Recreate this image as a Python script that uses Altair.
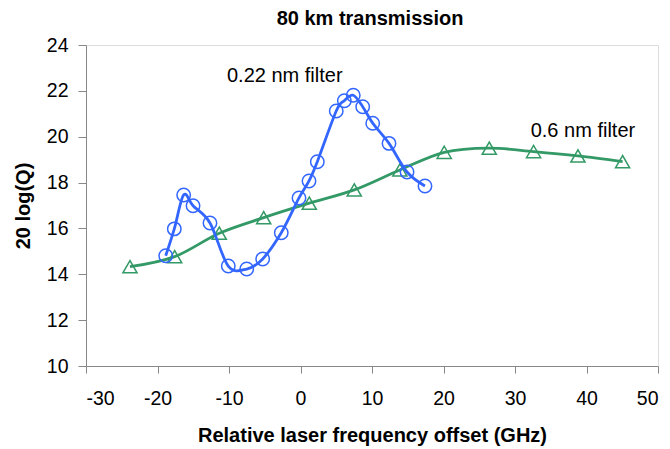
import altair as alt
import pandas as pd

# 0.22 nm filter (blue circles)
blue_x = [-18.85, -17.65, -16.34, -15.03, -12.66, -10.1, -7.52, -5.29, -2.69, -0.21,
          1.19, 2.35, 5.0, 6.13, 7.38, 8.70, 10.1, 12.38, 14.9, 17.41]
blue_y = [14.81, 15.98, 17.46, 16.99, 16.24, 14.36, 14.23, 14.67, 15.81, 17.33,
          18.07, 18.91, 21.12, 21.57, 21.81, 21.31, 20.59, 19.71, 18.46, 17.85]

# 0.6 nm filter (green triangles)
green_x = [-23.85, -17.6, -11.36, -5.15, 1.23, 7.52, 13.9, 20.1, 26.4, 32.6, 38.8, 45.05]
green_y = [14.33, 14.77, 15.79, 16.47, 17.10, 17.68, 18.55, 19.32, 19.50, 19.35, 19.16, 18.91]

x_ticks = [-30, -20, -10, 0, 10, 20, 30, 40, 50]
y_ticks = [10, 12, 14, 16, 18, 20, 22, 24]

FONT = "Liberation Sans"
BLUE = "#3366ff"
GREEN = "#339966"

blue_df = pd.DataFrame({"x": blue_x, "y": blue_y})
green_df = pd.DataFrame({"x": green_x, "y": green_y})

xscale = alt.Scale(domain=[-30, 50], nice=False, zero=False)
yscale = alt.Scale(domain=[10, 24], nice=False, zero=False)

xaxis = alt.Axis(values=x_ticks, title="Relative laser frequency offset (GHz)",
                 grid=False, tickSize=7, labelPadding=16, labelFontSize=19.5,
                 labelExpr="toString(datum.value)",
                 titleFontSize=20, titleFontWeight="bold", titleX=286, titleY=75,
                 titleBaseline="alphabetic", titleAlign="center")
yaxis = alt.Axis(values=y_ticks, title="20 log(Q)", grid=False, tickSize=8,
                 labelPadding=10, labelFontSize=19.5, labelExpr="toString(datum.value)",
                 titleFontSize=20, titleFontWeight="bold", titleX=-63, titleY=160.5,
                 titleBaseline="middle", titleAlign="center", titleAngle=-90)

X = alt.X("x:Q", scale=xscale, axis=xaxis)
Y = alt.Y("y:Q", scale=yscale, axis=yaxis)

green_line = alt.Chart(green_df).mark_line(
    interpolate="cardinal", color=GREEN, strokeWidth=2.8
).encode(x=X, y=Y)
green_pts = alt.Chart(green_df).mark_point(
    shape="triangle-up", filled=False, color=GREEN, size=200, strokeWidth=1.5, opacity=1
).encode(x=X, y=Y)
blue_line = alt.Chart(blue_df).mark_line(
    interpolate="cardinal", color=BLUE, strokeWidth=2.8
).encode(x=X, y=Y)
blue_pts = alt.Chart(blue_df).mark_point(
    shape="circle", filled=False, color=BLUE, size=180, strokeWidth=1.5, opacity=1
).encode(x=X, y=Y)

lab1 = alt.Chart().mark_text(text="0.22 nm filter", fontSize=20, font=FONT,
                             color="black", align="center", baseline="middle").encode(
    x=alt.datum(-2.2, scale=xscale), y=alt.datum(22.65, scale=yscale))
lab2 = alt.Chart().mark_text(text="0.6 nm filter", fontSize=20, font=FONT,
                             color="black", align="center", baseline="middle").encode(
    x=alt.datum(39.5, scale=xscale), y=alt.datum(20.25, scale=yscale))

title = alt.Chart().mark_text(text="80 km transmission", fontSize=20, font=FONT,
                              fontWeight="bold", color="black", align="center",
                              baseline="alphabetic").encode(
    x=alt.value(284), y=alt.value(-20))

chart = alt.layer(green_line, green_pts, blue_line, blue_pts, lab1, lab2, title).properties(
    width=572, height=321,
    autosize="none",
    padding={"left": 86, "top": 45, "right": 12, "bottom": 83},
).configure_view(
    stroke="#808080", strokeWidth=2
).configure_axis(
    domainColor="black", domainWidth=1.5, tickColor="black", tickWidth=1.2,
    labelFont=FONT, titleFont=FONT, labelColor="black", titleColor="black"
).configure(background="white")

chart.save("out.html", embed_options={"renderer": "svg", "actions": False})
